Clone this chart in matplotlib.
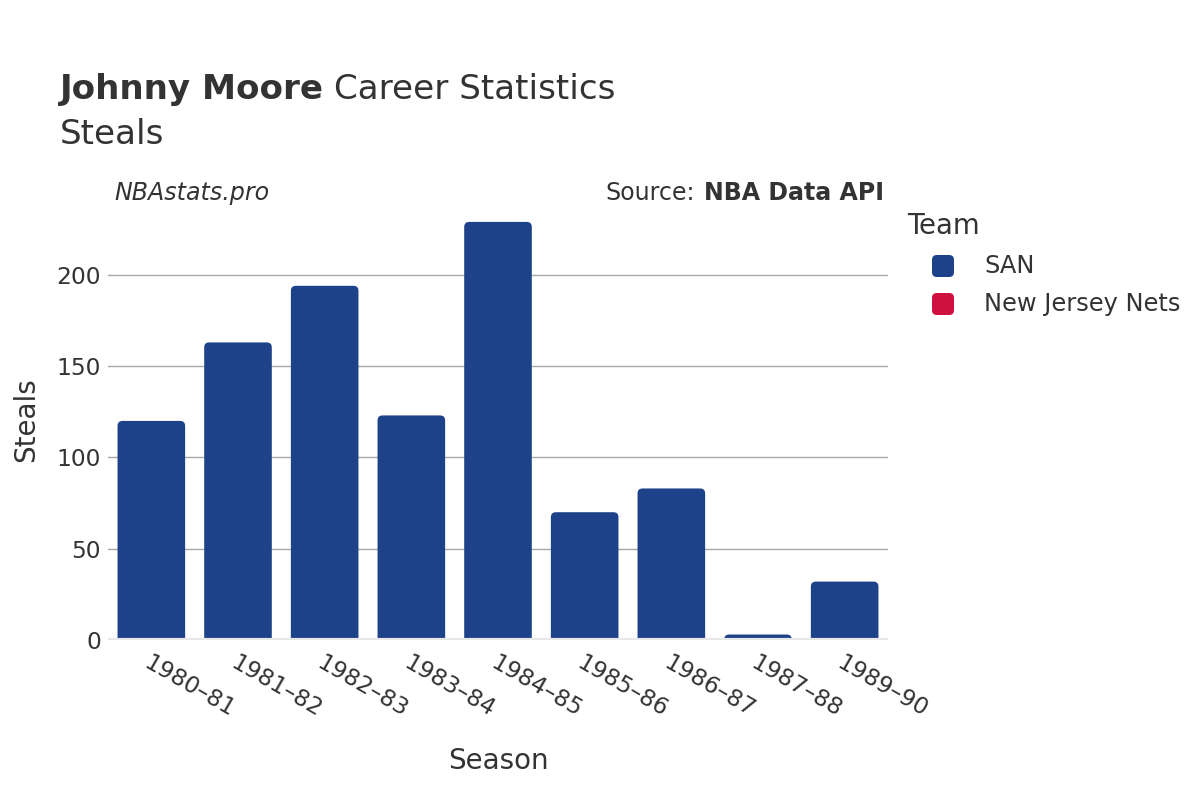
import matplotlib
matplotlib.use("Agg")
import matplotlib.pyplot as plt
from matplotlib.patches import FancyBboxPatch

seasons = ["1980–81", "1981–82", "1982–83", "1983–84", "1984–85",
           "1985–86", "1986–87", "1987–88", "1989–90"]
steals = [120, 163, 194, 123, 229, 70, 83, 3, 32]
teams = ["SAN", "New Jersey Nets"]
team_colors = ["#1d428a", "#ce1141"]
yticks = [0, 50, 100, 150, 200]

plt.rcParams['font.family'] = ['DejaVu Sans']
txt = "#333333"

fig = plt.figure(figsize=(12, 8), dpi=100)
ax = fig.add_axes([0.09, 0.2, 0.65, 0.55])

x = list(range(len(seasons)))
width = 0.78
bars = ax.bar(x, steals, width=width, color=team_colors[0], alpha=0)
ax.set_xlim(-0.5, len(seasons) - 0.5)
ax.set_ylim(0, 241)

# rounded tops
px_per_x = 0.65 * 1200 / len(seasons)
px_per_y = 0.55 * 800 / 241
aspect = px_per_x / px_per_y
r = 5 / px_per_x
for b in bars:
    h = b.get_height()
    p = FancyBboxPatch((b.get_x(), -10), b.get_width(), h + 10,
                       boxstyle=f"round,pad=0,rounding_size={r}",
                       mutation_aspect=aspect, facecolor=team_colors[0],
                       edgecolor="none", zorder=3, clip_on=True)
    ax.add_patch(p)

ax.set_yticks(yticks)
ax.set_yticklabels([str(t) for t in yticks], fontsize=16.8, color=txt)
ax.set_xticks(x)
ax.set_xticklabels(seasons, rotation=-30, ha="left", va="top",
                   rotation_mode="anchor", fontsize=16.8, color=txt)
ax.tick_params(axis="both", length=0)
ax.tick_params(axis="x", pad=8)
ax.tick_params(axis="y", pad=5)
ax.grid(axis="y", color="#a8a8a8", linewidth=1, zorder=0)
ax.axhline(0, color="#e8e8e8", linewidth=3, zorder=4)
for s in ax.spines.values():
    s.set_visible(False)

ax.set_xlabel("Season", fontsize=20, color=txt, labelpad=18)
ax.set_ylabel("Steals", fontsize=20, color=txt, labelpad=12)

fig.text(0.05, 0.8765, "Johnny Moore", fontsize=24.6, fontweight="bold",
         color=txt, va="baseline")
fig.text(334 / 1200, 0.8765, "Career Statistics", fontsize=24.6,
         color=txt, va="baseline")
fig.text(0.05, 0.82, "Steals", fontsize=24.6, color=txt, va="baseline")

fig.text(0.095, 0.7495, "NBAstats.pro", fontsize=17.1, style="italic",
         color=txt, va="baseline")
fig.text(605 / 1200, 0.7495, "Source:", fontsize=17.1, color=txt,
         va="baseline", ha="left")
fig.text(0.737, 0.7495, "NBA Data API", fontsize=17.1, fontweight="bold",
         color=txt, va="baseline", ha="right")

# legend
fig.text(0.756, 0.708, "Team", fontsize=19.9, color=txt, va="baseline")
for i, (t, c) in enumerate(zip(teams, team_colors)):
    yc = 1 - (266 + 38 * i) / 800
    patch = FancyBboxPatch((932 / 1200, yc - 11 / 800), 22 / 1200, 22 / 800,
                           boxstyle="round,pad=0,rounding_size=0.004",
                           mutation_aspect=1.5,
                           transform=fig.transFigure, facecolor=c,
                           edgecolor="none")
    fig.add_artist(patch)
    fig.text(984 / 1200, yc, t, fontsize=17.4, color=txt, va="center")

fig.savefig("out.png", dpi=100, facecolor="white")
